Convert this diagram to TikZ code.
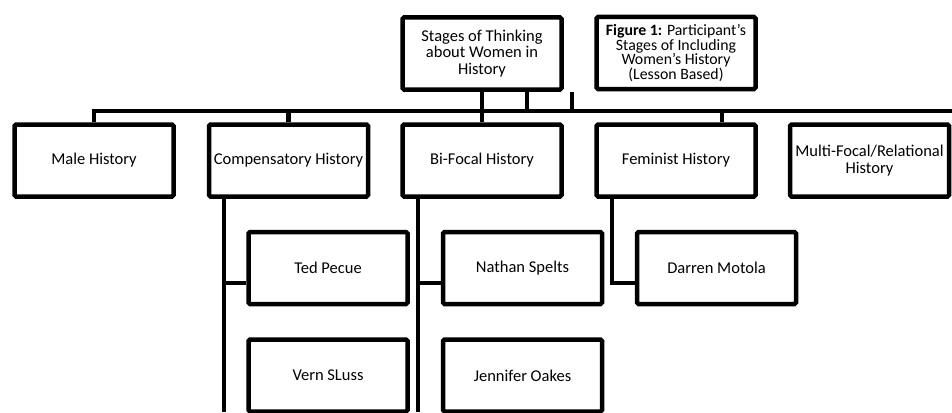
\documentclass[tikz,border=0pt]{standalone}
\usepackage{fontspec}
\setmainfont{Carlito}
\begin{document}
\begin{tikzpicture}[x=1pt,y=-1pt,line width=4.5pt,line join=miter,
  box/.style={draw,rounded corners=1.5pt,minimum width=159pt,minimum height=72pt,
    inner sep=0pt,align=center,font=\fontsize{16.5}{16.8}\selectfont},
  figbox/.style={box,font=\fontsize{15.8}{14.4}\selectfont},
  conn/.style={draw,line width=4.5pt}]
\fill[white] (0,0) rectangle (952,412);
\clip (0,0) rectangle (952,412);
% nodes
\node[box] (top) at (482,53.5) {Stages of Thinking\\about Women in\\History};
\node[figbox] (fig) at (676,53) {\textbf{Figure 1:} Participant's\\Stages of Including\\Women's History\\(Lesson Based)};
\node[box] (male) at (94,160.5) {Male History};
\node[box] (comp) at (288.5,160.5) {Compensatory History};
\node[box] (bifocal) at (482,160.5) {Bi-Focal History};
\node[box] (fem) at (676,160.5) {Feminist History};
\node[box] (multi) at (869.5,160.5) {Multi-Focal/Relational\\History};
\node[box] (ted) at (328,268) {Ted Pecue};
\node[box] (vern) at (328,375.5) {Vern SLuss};
\node[box] (nathan) at (522.5,268) {Nathan Spelts};
\node[box] (jen) at (522.5,375.5) {Jennifer Oakes};
\node[box] (darren) at (716.5,268) {Darren Motola};
% coordinates
\coordinate (barL) at (94,111);
\coordinate (barR) at (952,111);
\coordinate (stub) at (572,92);
\coordinate (compEnd) at (224,412);
\coordinate (biEnd) at (418,412);
% top bar
\draw[conn] (male.north) -- (male.north |- barL) -- (barR);
\draw[conn] (top.south) -- (bifocal.north);
\draw[conn] ([xshift=45pt]top.south) -- ([xshift=45pt]top.south |- barL);
\draw[conn] (stub) -- (stub |- barL);
\draw[conn] (comp.north) -- (comp.north |- barL);
\draw[conn] ([xshift=46pt]fem.north) -- ([xshift=46pt]fem.north |- barL);
% subtrees
\draw[conn] (comp.south -| compEnd) -- (compEnd);
\draw[conn] ([yshift=-15pt]ted.west -| compEnd) -- ([yshift=-15pt]ted.west);
\draw[conn] (bifocal.south -| biEnd) -- (biEnd);
\draw[conn] ([yshift=-15pt]nathan.west -| biEnd) -- ([yshift=-15pt]nathan.west);
\draw[conn] ([xshift=-64pt]fem.south) |- ([yshift=-15pt]darren.west);
\end{tikzpicture}
\end{document}
